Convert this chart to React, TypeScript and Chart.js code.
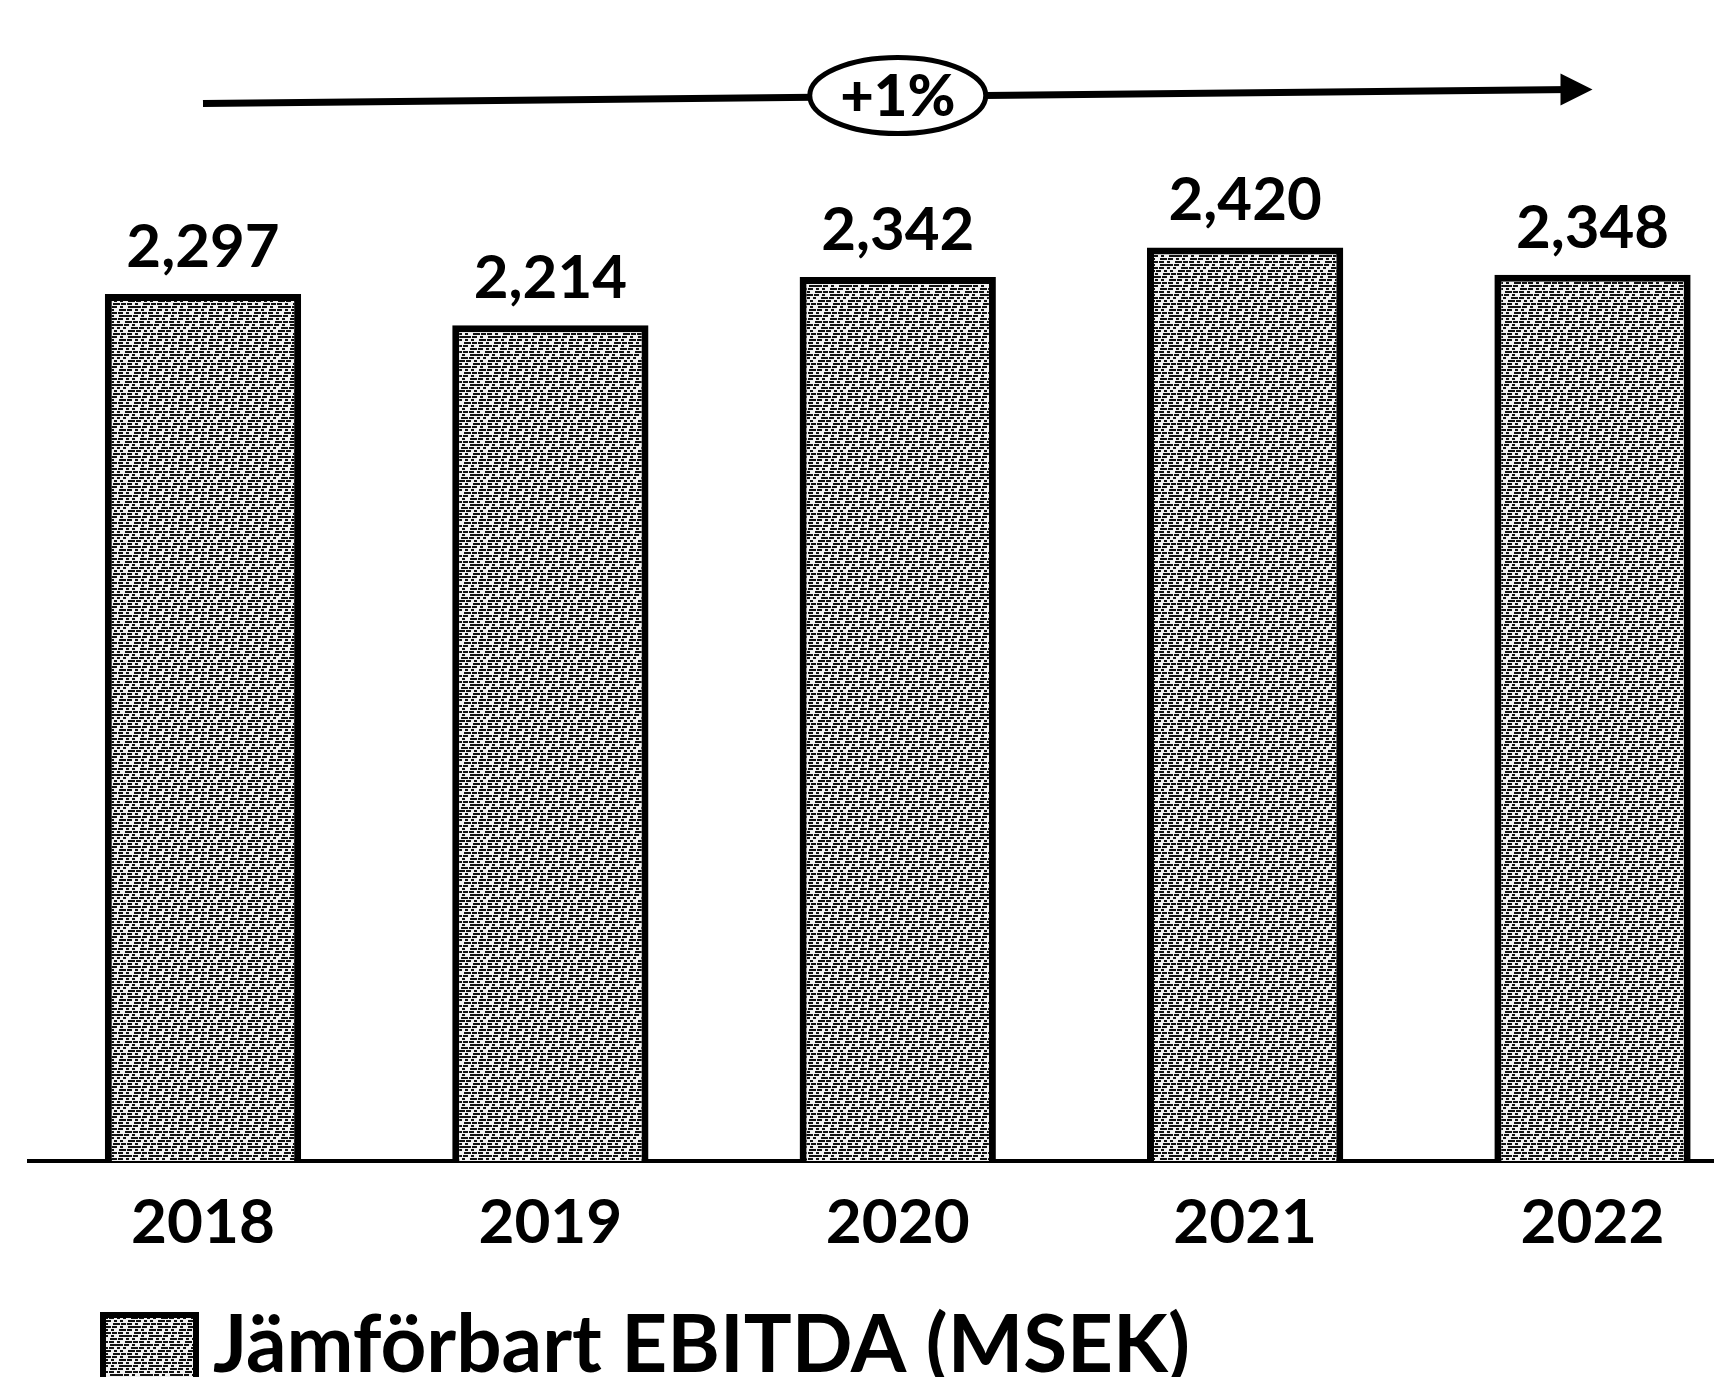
import React, { useEffect, useRef } from "react";
import { Chart, registerables } from "chart.js";

Chart.register(...registerables);

const categories = ["2018", "2019", "2020", "2021", "2022"];
const ebitda = [2297, 2214, 2342, 2420, 2348];
const valueLabels = ["2,297", "2,214", "2,342", "2,420", "2,348"];
const seriesLabel = "Jämförbart EBITDA (MSEK)";
const growthLabel = "+1%";
const yMax = 3000;

const CANVAS_W = 1800;
const CANVAS_H = 1377;

function makePattern(ctx: CanvasRenderingContext2D): CanvasPattern | string {
  const c = document.createElement("canvas");
  const S = 30;
  c.width = S;
  c.height = S;
  const g = c.getContext("2d");
  if (!g) return "#888";
  g.fillStyle = "#f2f2f2";
  g.fillRect(0, 0, S, S);
  g.fillStyle = "#111111";
  for (let r = 0; r < 10; r++) {
    const y = r * 3;
    for (let k = 0; k < 4; k++) {
      const x = (r * 7 + k * 8) % S;
      const len = 3 + ((r + 2 * k) % 3) * 2;
      g.fillRect(x, y, len, 2);
      if (x + len > S) g.fillRect(x - S, y, len, 2);
    }
  }
  return ctx.createPattern(c, "repeat") || "#888";
}

export default function App() {
  const ref = useRef<HTMLCanvasElement | null>(null);

  useEffect(() => {
    const canvas = ref.current;
    if (!canvas) return;
    const ctx2d = canvas.getContext("2d")!;
    const pattern = makePattern(ctx2d);

    const overlay = {
      id: "overlay",
      afterDatasetsDraw(chart: any) {
        const ctx: CanvasRenderingContext2D = chart.ctx;
        const meta = chart.getDatasetMeta(0);
        ctx.save();
        ctx.fillStyle = "#000";
        ctx.font = "bold 60px Lato";
        ctx.textAlign = "center";
        ctx.textBaseline = "alphabetic";
        meta.data.forEach((el: any, i: number) => {
          ctx.fillText(valueLabels[i], el.x, el.y - 27);
        });

        // growth arrow
        const xs = chart.scales.x;
        const xa = xs.getPixelForValue(0);
        const xb = xs.getPixelForValue(categories.length - 1);
        const top = chart.chartArea.top;
        const ya = top + 75;
        const yb = top + 61;
        ctx.strokeStyle = "#000";
        ctx.lineWidth = 7;
        ctx.beginPath();
        ctx.moveTo(xa, ya);
        ctx.lineTo(xb - 20, yb);
        ctx.stroke();
        ctx.beginPath();
        ctx.moveTo(xb, yb);
        ctx.lineTo(xb - 32, yb - 16);
        ctx.lineTo(xb - 32, yb + 16);
        ctx.closePath();
        ctx.fill();

        const xm = xs.getPixelForValue((categories.length - 1) / 2);
        const ym = top + 67;
        ctx.beginPath();
        ctx.ellipse(xm, ym, 88, 38, 0, 0, Math.PI * 2);
        ctx.fillStyle = "#fff";
        ctx.fill();
        ctx.lineWidth = 5;
        ctx.stroke();
        ctx.fillStyle = "#000";
        ctx.font = "900 58px Lato";
        ctx.textBaseline = "middle";
        ctx.fillText(growthLabel, xm, ym + 2);

        // legend
        const bx = 100, by = 1312, bw = 99, bh = 90;
        ctx.fillStyle = pattern as any;
        ctx.fillRect(bx, by, bw, bh);
        ctx.lineWidth = 6;
        ctx.strokeStyle = "#000";
        ctx.strokeRect(bx + 3, by + 3, bw - 6, bh - 6);
        ctx.fillStyle = "#000";
        ctx.font = "bold 80px Lato";
        ctx.textAlign = "left";
        ctx.textBaseline = "alphabetic";
        ctx.fillText(seriesLabel, 213, 1372);
        ctx.restore();
      },
    };

    const chart = new Chart(canvas, {
      type: "bar",
      data: {
        labels: categories,
        datasets: [
          {
            label: seriesLabel,
            data: ebitda,
            backgroundColor: pattern as any,
            borderColor: "#000",
            borderWidth: 7,
            barPercentage: 0.565,
            categoryPercentage: 1.0,
          },
        ],
      },
      options: {
        responsive: false,
        animation: false,
        layout: { padding: { left: 29.3, right: CANVAS_W - 1766.2, top: 28.5, bottom: 0 } },
        plugins: {
          legend: { display: false },
          tooltip: { enabled: false },
        },
        scales: {
          x: {
            grid: { display: false, drawTicks: false },
            border: { display: true, color: "#000", width: 4 },
            ticks: {
              color: "#000",
              font: { family: "Lato", weight: "bold", size: 62 },
              padding: 25,
            },
            afterFit: (s: any) => {
              s.height = CANVAS_H - 1161;
            },
          },
          y: { display: false, min: 0, max: yMax },
        },
      },
      plugins: [overlay],
    });
    return () => chart.destroy();
  }, []);

  return (
    <div
      style={{
        position: "fixed",
        left: 0,
        top: 0,
        width: 1714,
        height: 1377,
        overflow: "hidden",
        background: "#fff",
      }}
    >
      <canvas
        ref={ref}
        width={CANVAS_W}
        height={CANVAS_H}
        style={{ display: "block", width: CANVAS_W, height: CANVAS_H }}
      />
    </div>
  );
}
